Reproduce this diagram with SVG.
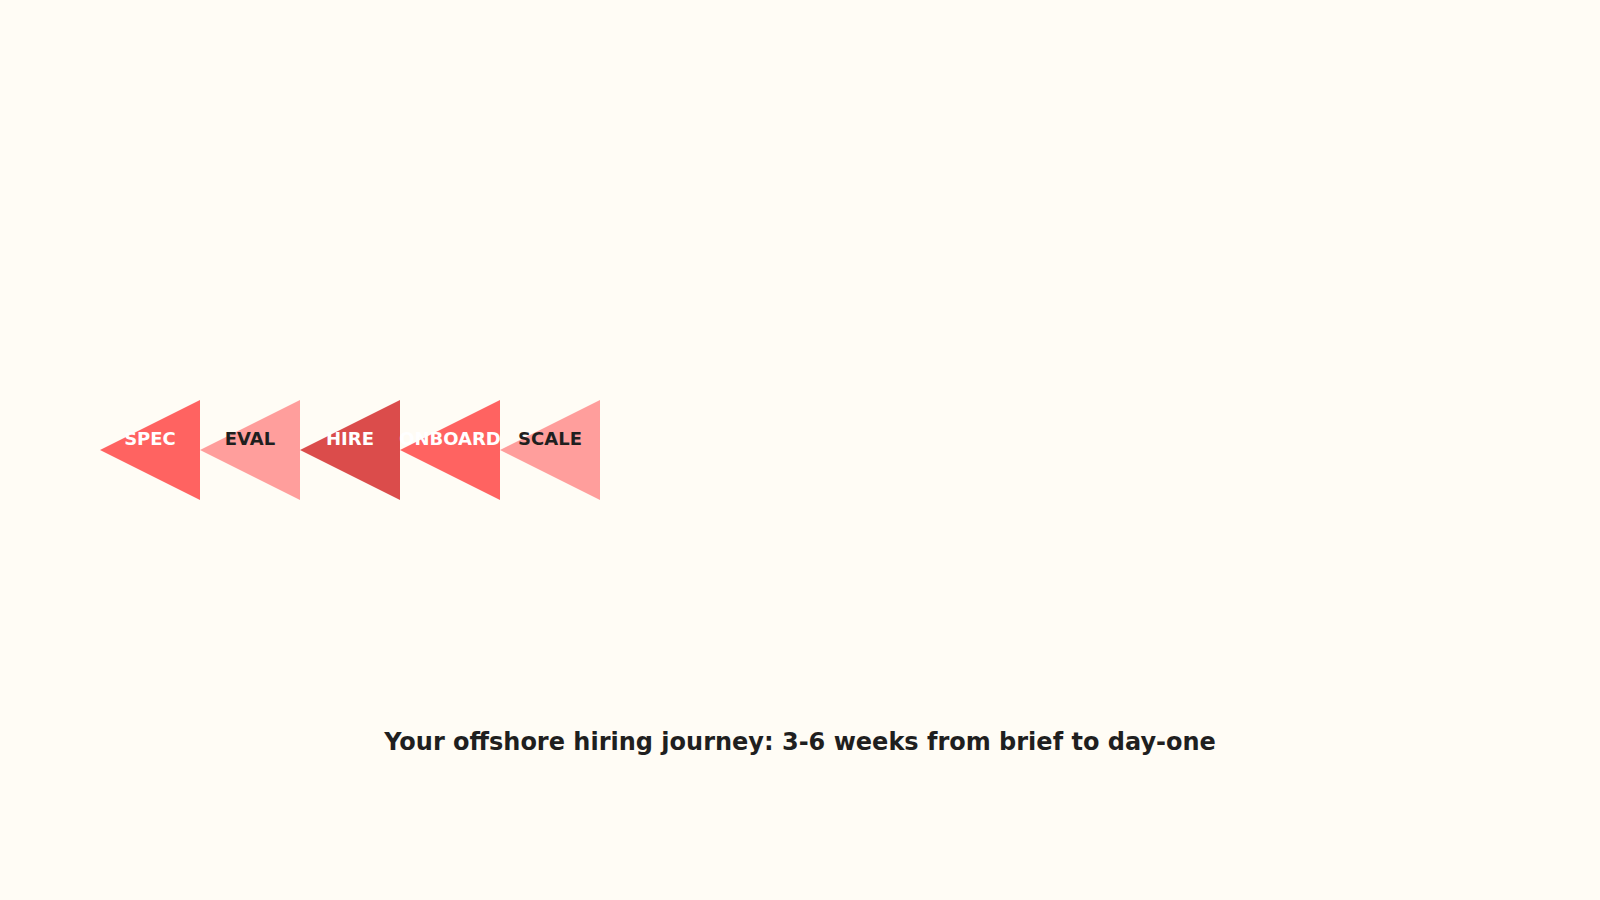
<svg xmlns="http://www.w3.org/2000/svg" width="1600" height="900" viewBox="0 0 1600 900">
  <style>
    .lbl { font-family: "DejaVu Sans", sans-serif; font-weight: bold; font-size: 18px; text-anchor: middle; }
    .light { fill: #FFFFFF; }
    .dark { fill: #1F1F1F; }
    .title { font-family: "DejaVu Sans", sans-serif; font-weight: bold; font-size: 24px; text-anchor: middle; fill: #1F1F1F; }
  </style>
  <rect width="1600" height="900" fill="#FFFCF5"/>
  <g id="connectors"></g>
  <g id="node-spec">
    <polygon points="200,400 200,500 100,450" fill="#FF6361"/>
    <text class="lbl light" x="150" y="445">SPEC</text>
  </g>
  <g id="node-eval">
    <polygon points="300,400 300,500 200,450" fill="#FF9E9C"/>
    <text class="lbl dark" x="250" y="445">EVAL</text>
  </g>
  <g id="node-hire">
    <polygon points="400,400 400,500 300,450" fill="#DB4C4B"/>
    <text class="lbl light" x="350" y="445">HIRE</text>
  </g>
  <g id="node-onboard">
    <polygon points="500,400 500,500 400,450" fill="#FF6361"/>
    <text class="lbl light" x="450" y="445">ONBOARD</text>
  </g>
  <g id="node-scale">
    <polygon points="600,400 600,500 500,450" fill="#FF9E9C"/>
    <text class="lbl dark" x="550" y="445">SCALE</text>
  </g>
  <text class="title" x="800" y="750">Your offshore hiring journey: 3-6 weeks from brief to day-one</text>
</svg>
